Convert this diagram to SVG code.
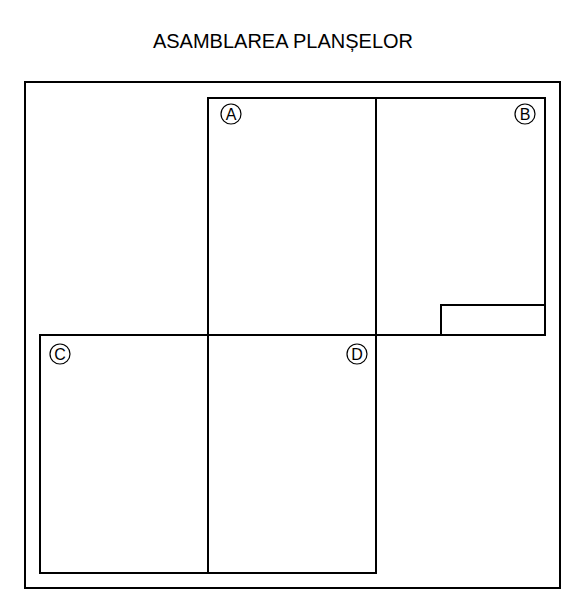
<svg xmlns="http://www.w3.org/2000/svg" width="583" height="607" viewBox="0 0 583 607">
<style>
.frame{fill:none;stroke:#000;stroke-width:2}
.sheet{fill:none;stroke:#000;stroke-width:2}
.mark{fill:none;stroke:#000;stroke-width:1.2}
.lbl{font-family:"Liberation Sans",Arial,sans-serif;font-size:16px;fill:#000;text-anchor:middle}
.title{font-family:"Liberation Sans",Arial,sans-serif;font-size:20px;fill:#000;text-anchor:middle}
</style>
<rect width="583" height="607" fill="#fff"/>
<text class="title" x="283" y="48">ASAMBLAREA PLANȘELOR</text>
<g id="frame"><rect class="frame" x="25" y="82" width="535" height="506"/></g>
<g id="sheetA"><rect class="sheet" x="208" y="98" width="168" height="237"/>
<circle class="mark" cx="231" cy="114" r="10"/><text class="lbl" x="231" y="119.8">A</text></g>
<g id="sheetB"><rect class="sheet" x="376" y="98" width="169" height="237"/>
<circle class="mark" cx="525" cy="114" r="10"/><text class="lbl" x="525" y="119.8">B</text>
<rect class="sheet" x="441" y="305" width="104" height="30"/></g>
<g id="sheetC"><rect class="sheet" x="40" y="335" width="168" height="238"/>
<circle class="mark" cx="60" cy="354" r="10"/><text class="lbl" x="60" y="359.8">C</text></g>
<g id="sheetD"><rect class="sheet" x="208" y="335" width="168" height="238"/>
<circle class="mark" cx="357" cy="354" r="10"/><text class="lbl" x="357" y="359.8">D</text></g>
<g id="connectors"></g>
</svg>
